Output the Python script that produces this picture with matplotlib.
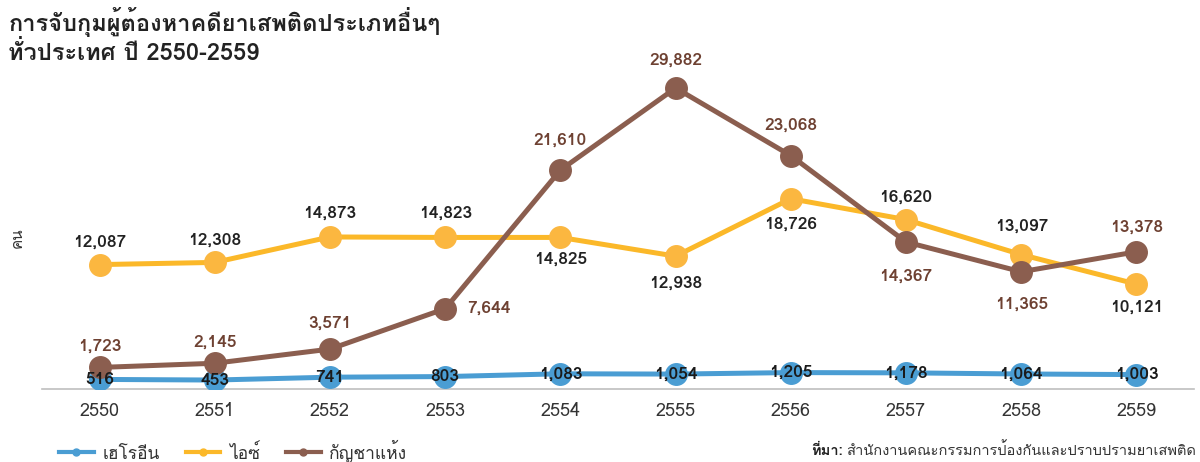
import matplotlib
matplotlib.use("Agg")
import matplotlib.pyplot as plt
from matplotlib import font_manager
from matplotlib.ft2font import FT2Font

# data
years = ["2550", "2551", "2552", "2553", "2554", "2555", "2556", "2557", "2558", "2559"]
heroin = [516, 453, 741, 803, 1083, 1054, 1205, 1178, 1064, 1003]
ice = [12087, 12308, 14873, 14823, 14825, 12938, 18726, 16620, 13097, 10121]
cannabis = [1723, 2145, 3571, 7644, 21610, 29882, 23068, 14367, 11365, 13378]
series_names = ["เฮโรอีน", "ไอซ์", "กัญชาแห้ง"]

title = "การจับกุมผู้ต้องหาคดียาเสพติดประเภทอื่นๆ\nทั่วประเทศ ปี 2550-2559"
source_text = "สำนักงานคณะกรรมการป้องกันและปราบปรามยาเสพติด"


# find a font that has Thai glyphs
def find_thai_font():
    for f in font_manager.fontManager.ttflist:
        try:
            cmap = FT2Font(f.fname).get_charmap()
        except Exception:
            continue
        if ord("ก") in cmap:
            return f.name
    return None


thai = find_thai_font()
fams = ([thai] if thai else []) + ["DejaVu Sans"]
plt.rcParams["font.family"] = fams

blue = "#4a9dd3"
yellow = "#fbb829"
brown = "#8b5e4f"
brown_txt = "#6e4132"
dark = "#222222"

fig = plt.figure(figsize=(12, 4.62), dpi=100)
ax = fig.add_axes([0.035, 0.158, 0.96, 0.697])

x = list(range(len(years)))
ax.plot(x, heroin, color=blue, lw=3.6, marker="o", ms=15.5, zorder=3)
ax.plot(x, ice, color=yellow, lw=3.6, marker="o", ms=15.5,
        mfc="#fbb740", mec="#fbb740", zorder=3)
ax.plot(x, cannabis, color=brown, lw=3.6, marker="o", ms=15.5, zorder=4)

ax.set_xlim(-0.5, len(years) - 0.5)
ax.set_ylim(-450, 32000)
ax.set_xticks(x)
ax.set_xticklabels(years)
ax.tick_params(axis="x", length=0, pad=9, labelsize=13, labelcolor="#333333")
ax.set_yticks([])
for s in ["top", "right", "left"]:
    ax.spines[s].set_visible(False)
ax.spines["bottom"].set_color("#bfbfbf")
ax.spines["bottom"].set_linewidth(1.2)

# label placement (pixels offset)
ice_off = [(0, 22), (0, 22), (0, 24), (0, 24), (0, -22), (0, -27),
           (0, -25), (0, 22), (0, 28), (0, -23)]
can_off = [(0, 21), (0, 21), (0, 26), (44, 0), (0, 30), (0, 28),
           (0, 30), (0, -34), (0, -32), (0, 25)]

for i in x:
    ax.annotate(f"{heroin[i]:,}", (i, heroin[i]), xytext=(0, 0),
                textcoords="offset pixels", ha="center", va="center",
                fontsize=12.5, fontweight="bold", color="#1a1a1a", zorder=6)
    ax.annotate(f"{ice[i]:,}", (i, ice[i]), xytext=ice_off[i],
                textcoords="offset pixels", ha="center", va="center",
                fontsize=12.5, fontweight="bold", color=dark, zorder=6)
    ax.annotate(f"{cannabis[i]:,}", (i, cannabis[i]), xytext=can_off[i],
                textcoords="offset pixels", ha="center", va="center",
                fontsize=12.5, fontweight="bold", color=brown_txt, zorder=6)

# titles and texts
fig.text(0.007, 0.985, title, ha="left", va="top", fontsize=17,
         fontweight="bold", color=dark, linespacing=1.2)
fig.text(0.015, 0.485, "คน", rotation=90, ha="center", va="center",
         fontsize=11, color="#333333")

# legend
handles = []
for c in [blue, yellow, brown]:
    h, = ax.plot([], [], color=c, lw=3, marker="o", ms=5)
    handles.append(h)
fig.legend(handles, series_names, loc="lower left", bbox_to_anchor=(0.036, -0.035),
           ncol=3, frameon=False, fontsize=12.5, handlelength=2.0,
           columnspacing=1.5, handletextpad=0.5, labelcolor="#333333")

# source note, right aligned so it fits
src = fig.text(0.997, 0.008, source_text, ha="right", va="bottom", fontsize=10.5,
               color="#333333")
fig.canvas.draw()
bb = src.get_window_extent()
fig.text((bb.x0 - 4) / fig.bbox.width, 0.008, "ที่มา:", ha="right", va="bottom",
         fontsize=10.5, fontweight="bold", color=dark)

fig.savefig("out.png", dpi=100)
